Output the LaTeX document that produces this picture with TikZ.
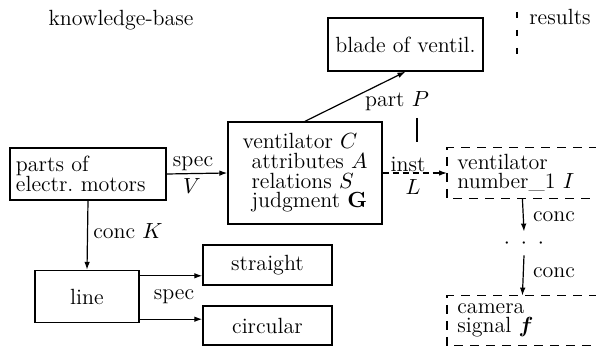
\documentclass[tikz,border=0pt]{standalone}
\usepackage{amsmath,bm}
\usetikzlibrary{arrows.meta,calc}
\begin{document}
\begin{tikzpicture}[x=0.5pt,y=-0.5pt,
  every node/.style={font=\fontsize{11}{9.8}\selectfont, inner sep=0pt},
  box/.style={draw, line width=0.7pt, align=left},
  arr/.style={-{Latex[length=4pt,width=2.8pt]}, line width=0.6pt},
  ln/.style={line width=0.6pt},
  dbox/.style={line width=0.7pt, dash pattern=on 4.5pt off 3.5pt},
  dbtext/.style={anchor=west, align=left, text width=65pt, inner xsep=5pt, minimum height=#1},
]
\useasboundingbox (0,0) rectangle (596,347);

% headings
\node (kb) at (121,20) {knowledge-base};
\node (res) at (560,17) {results};
\coordinate (r1) at (517,12);
\coordinate (r2) at (517,63);
\draw[ln, dash pattern=on 3pt off 6pt] (r1) -- (r2);

% boxes
\node[box, minimum width=77.5pt, minimum height=26.5pt, align=center] (blade) at (405.5,44.5) {blade of ventil.};
\node[box, minimum width=77pt, minimum height=51pt] (vent) at (305,173)
  {ventilator $C$\\\hspace{4.5pt}attributes $A$\\\hspace{4.5pt}relations $S$\\\hspace{4.5pt}judgment $\mathbf{G}$};
\node[box, minimum width=78pt, minimum height=26pt, text width=72pt] (parts) at (88,174) {parts of\\electr.\ motors};
\node[box, minimum width=52pt, minimum height=26pt, align=center] (line) at (87,296.5) {line};
\node[box, minimum width=64.5pt, minimum height=20pt, align=center] (straight) at (267.5,265) {straight};
\node[box, minimum width=64.5pt, minimum height=19.5pt, align=center] (circ) at (267.5,325.5) {circular};

% dashed result boxes (open to the right)
\node[dbtext=25pt] (vn) at (447,173) {ventilator\\number\_1 $I$};
\draw[dbox] (vn.north east) -- (vn.north west) -- (vn.south west) -- (vn.south east);
\node[dbtext=24.5pt] (cam) at (447,320.5) {camera\\signal $\bm{f}$};
\draw[dbox] (cam.north east) -- (cam.north west) -- (cam.south west) -- (cam.south east);
\node[minimum height=11.5pt, minimum width=20pt] (dots) at (524,243.5) {$\cdot$\hspace{5.5pt}$\cdot$\hspace{5.5pt}$\cdot$};

% connectors
\draw[arr] (vent.north) -- (blade.south);
\node (partP) at (397,101) {part $P$};
\coordinate (p1) at (417,118);
\coordinate (p2) at (417,142);
\draw[ln] (p1) -- (p2);

\draw[arr] (parts.east) -- (vent.west);
\node (specV) at (193,164) {spec};
\node (V) at (192,186) {$V$};

\draw[arr, dash pattern=on 3pt off 2pt] (vent.east) -- (vn.west);
\node (inst) at (408,164) {inst};
\node (L) at (413,187) {$L$};

\draw[arr] (parts.south) -- (line.north);
\node (concK) at (128,231) {conc $K$};

\coordinate (l1) at ($(line.north east)+(0,6)$);
\coordinate (l2) at ($(line.south east)+(0,-4)$);
\draw[arr] (l1) -- (l1 -| straight.west);
\draw[arr] (l2) -- (l2 -| circ.west);
\node (specL) at (174,297) {spec};

\draw[arr] (vn.south) -- (dots.north);
\node (conc1) at (554,217) {conc};
\draw[arr] (dots.south) -- (cam.north);
\node (conc2) at (554,273) {conc};
\end{tikzpicture}
\end{document}
